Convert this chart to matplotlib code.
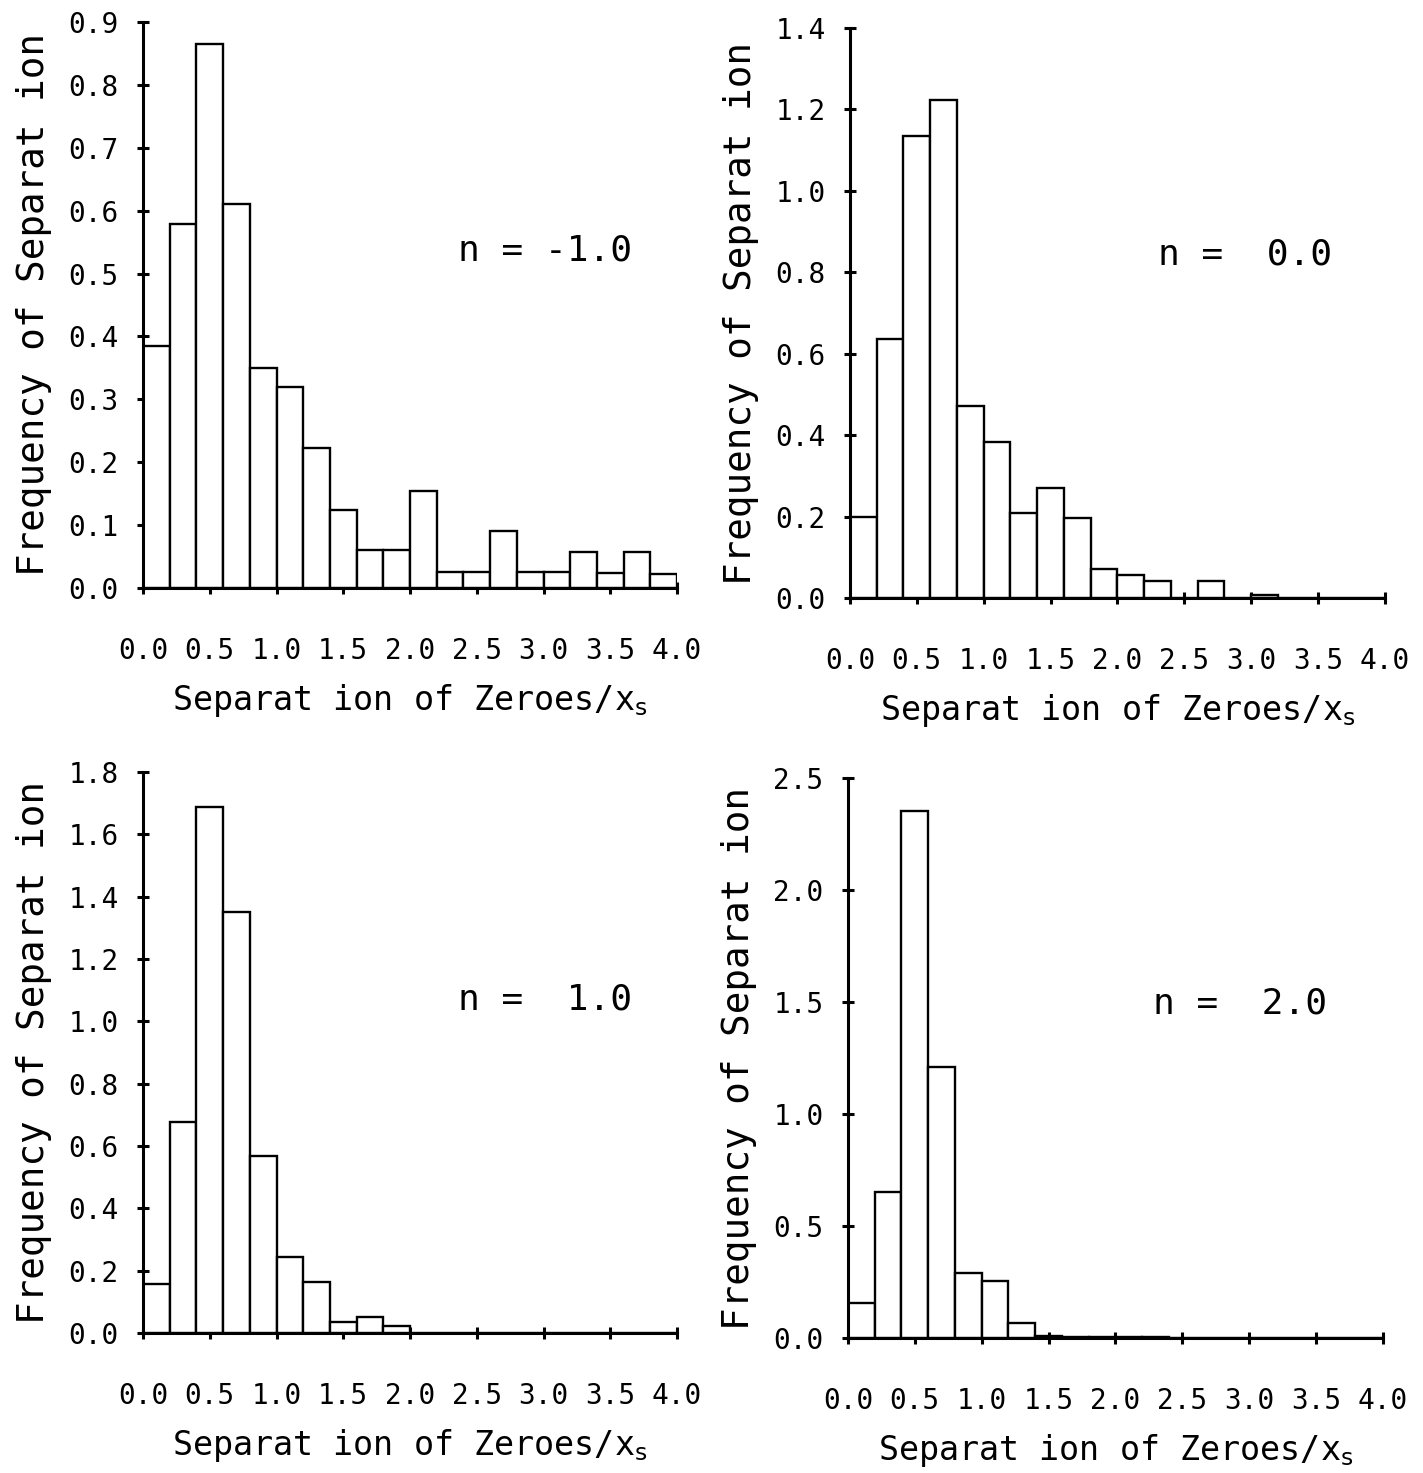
import numpy as np
import matplotlib
matplotlib.use("Agg")
import matplotlib.pyplot as plt

# bin edges of the separation histograms (width 0.2, 0 .. 4)
edges = np.round(np.arange(0.0, 4.01, 0.2), 2)

# frequency of separation for each n
freq_m1 = [0.384, 0.578, 0.865, 0.611, 0.350, 0.319, 0.222, 0.124, 0.060, 0.060,
           0.155, 0.026, 0.026, 0.090, 0.026, 0.026, 0.058, 0.024, 0.057, 0.023]
freq_0 = [0.199, 0.637, 1.135, 1.224, 0.472, 0.384, 0.209, 0.270, 0.196, 0.071,
          0.056, 0.041, 0.0, 0.041, 0.0, 0.008, 0.0, 0.0, 0.0, 0.0]
freq_1 = [0.158, 0.677, 1.687, 1.352, 0.569, 0.244, 0.165, 0.034, 0.053, 0.024,
          0.0, 0.0, 0.0, 0.0, 0.0, 0.0, 0.0, 0.0, 0.0, 0.0]
freq_2 = [0.157, 0.652, 2.352, 1.211, 0.292, 0.256, 0.065, 0.008, 0.004, 0.004,
          0.003, 0.003, 0.0, 0.0, 0.0, 0.0, 0.0, 0.0, 0.0, 0.0]

n_labels = ["n = -1.0", "n =  0.0", "n =  1.0", "n =  2.0"]
y_tops = [0.9, 1.4, 1.8, 2.5]
y_steps = [0.1, 0.2, 0.2, 0.5]
x_ticks = np.arange(0.0, 4.01, 0.5)

plt.rcParams['font.family'] = ['DejaVu Sans Mono', 'DejaVu Sans']

fig = plt.figure(figsize=(14.23, 14.73), dpi=100)

# axes rectangles: left, bottom, width, height
boxes = [[0.1005, 0.6008, 0.3753, 0.3843],
         [0.5973, 0.5940, 0.3760, 0.3870],
         [0.1005, 0.0950, 0.3753, 0.3810],
         [0.5959, 0.0917, 0.3760, 0.3800]]
n_pos = [(0.753, 0.597), (0.738, 0.602), (0.753, 0.594), (0.733, 0.598)]

for freq, lab, top, step, box, npos in zip(
        [freq_m1, freq_0, freq_1, freq_2], n_labels, y_tops, y_steps, boxes, n_pos):
    ax = fig.add_axes(box)
    ax.bar(edges[:-1], freq, width=0.2, align='edge', color='white',
           edgecolor='black', linewidth=1.7, zorder=2)
    ax.set_xlim(0, 4.0)
    ax.set_ylim(0, top)
    for s in ['top', 'right']:
        ax.spines[s].set_visible(False)
    for s in ['left', 'bottom']:
        ax.spines[s].set_linewidth(2.2)
        ax.spines[s].set_zorder(3)
    ax.spines['left'].set_bounds(0, top)
    yt = np.round(np.arange(0, top + step / 2, step), 2)
    ax.set_yticks(yt)
    ax.set_yticklabels(['%.1f' % v for v in yt])
    ax.set_xticks(x_ticks)
    ax.set_xticklabels(['%.1f' % v for v in x_ticks])
    ax.tick_params(axis='both', direction='inout', length=9, width=2.2,
                   labelsize=20)
    ax.tick_params(axis='y', pad=13)
    ax.tick_params(axis='x', pad=31)
    ax.set_ylabel('Frequency of Separat ion', fontsize=27, labelpad=12)
    ax.set_xlabel(r'Separat ion of Zeroes/x$_{\mathrm{s}}$', fontsize=24,
                  labelpad=12)
    ax.text(npos[0], npos[1], lab, transform=ax.transAxes, fontsize=26,
            ha='center', va='center')

fig.savefig('out.png', dpi=100, facecolor='white')
